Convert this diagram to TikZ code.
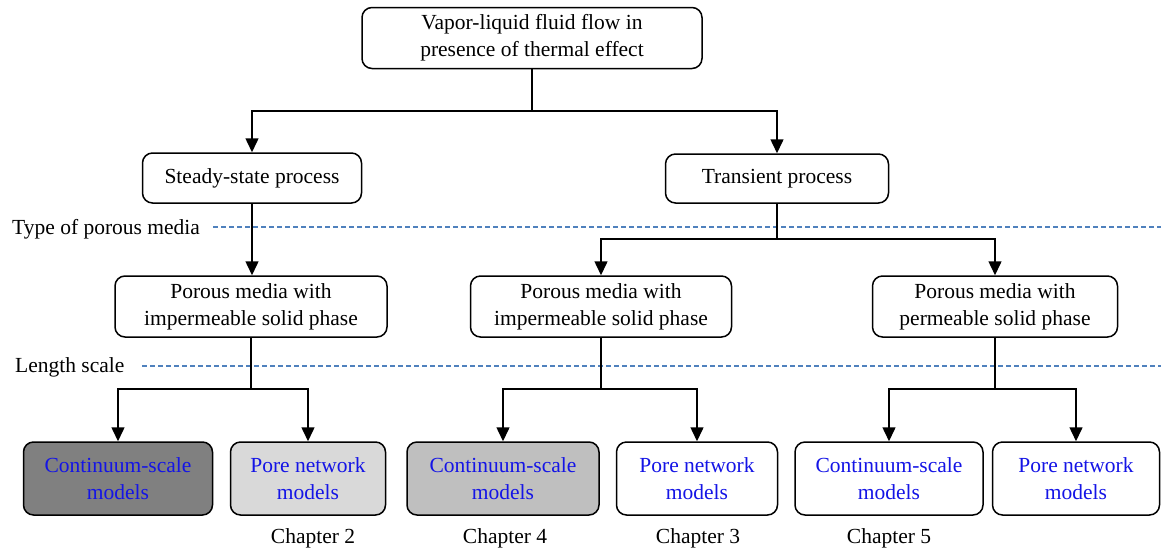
\documentclass[tikz,border=0pt]{standalone}
\usepackage{fontspec}
\setmainfont{Liberation Serif}
\usetikzlibrary{arrows.meta}
\definecolor{dashblue}{RGB}{79,129,189}
\definecolor{txtblue}{RGB}{20,20,230}
\definecolor{fillA}{RGB}{128,128,128}
\definecolor{fillB}{RGB}{217,217,217}
\definecolor{fillC}{RGB}{191,191,191}
\begin{document}
\begin{tikzpicture}[x=1pt,y=-1pt,
  font=\fontsize{21.5}{27}\selectfont,
  boxnode/.style={draw=black, line width=1.5pt, rounded corners=10pt, inner sep=0pt, align=center},
  modelbox/.style={boxnode, minimum height=73pt, text=txtblue},
  arr/.style={line width=1.5pt, -{Triangle[length=14pt,width=13pt]}},
  plain/.style={line width=1.5pt},
  sep/.style={dashblue, line width=1.2pt, dash pattern=on 5pt off 3pt},
  lbl/.style={inner sep=0pt}]
\useasboundingbox (0,0) rectangle (1161,552);

\node[boxnode, minimum width=340pt, minimum height=61pt] (top) at (532,38) {Vapor-liquid fluid flow in\\presence of thermal effect};
\node[boxnode, minimum width=219pt, minimum height=50pt] (ss) at (252,178) {Steady-state process};
\node[boxnode, minimum width=223pt, minimum height=49pt] (tr) at (777,178.5) {Transient process};

\node[boxnode, minimum width=272pt, minimum height=61pt] (m1) at (251,306.5) {Porous media with\\impermeable solid phase};
\node[boxnode, minimum width=261pt, minimum height=61pt] (m2) at (601,306.5) {Porous media with\\impermeable solid phase};
\node[boxnode, minimum width=245pt, minimum height=61pt] (m3) at (995,306.5) {Porous media with\\permeable solid phase};

\node[modelbox, fill=fillA, minimum width=189pt] (b1) at (118,478.5) {Continuum-scale\\models};
\node[modelbox, fill=fillB, minimum width=155pt] (b2) at (308,478.5) {Pore network\\models};
\node[modelbox, fill=fillC, minimum width=192pt] (b3) at (503,478.5) {Continuum-scale\\models};
\node[modelbox, fill=white, minimum width=161pt] (b4) at (697,478.5) {Pore network\\models};
\node[modelbox, fill=white, minimum width=188pt] (b5) at (889,478.5) {Continuum-scale\\models};
\node[modelbox, fill=white, minimum width=167pt] (b6) at (1076,478.5) {Pore network\\models};

\node[lbl] (c2) at (313,538) {Chapter 2};
\node[lbl] (c4) at (505,538) {Chapter 4};
\node[lbl] (c3) at (698,538) {Chapter 3};
\node[lbl] (c5) at (889,538) {Chapter 5};

% separators
\node[lbl, anchor=west] (l1) at (12,229) {Type of porous media};
\node[lbl, anchor=west] (l2) at (15,367) {Length scale};
\coordinate (d1e) at (1161,227);
\coordinate (d2e) at (1161,366);
\draw[sep] (213,227) -- (d1e);
\draw[sep] (142,366) -- (d2e);

% connectors
\coordinate (j1) at (top.south |- 0,111);
\draw[plain] (top.south) -- (j1);
\draw[arr] (j1) -| (ss.north);
\draw[arr] (j1) -| (tr.north);

\draw[arr] (ss.south) -- (ss.south |- m1.north);

\coordinate (j2) at (tr.south |- 0,239);
\draw[plain] (tr.south) -- (j2);
\draw[arr] (j2) -| (m2.north);
\draw[arr] (j2) -| (m3.north);

\coordinate (j3) at (m1.south |- 0,389);
\draw[plain] (m1.south) -- (j3);
\draw[arr] (j3) -| (b1.north);
\draw[arr] (j3) -| (b2.north);

\coordinate (j4) at (m2.south |- 0,389);
\draw[plain] (m2.south) -- (j4);
\draw[arr] (j4) -| (b3.north);
\draw[arr] (j4) -| (b4.north);

\coordinate (j5) at (m3.south |- 0,389);
\draw[plain] (m3.south) -- (j5);
\draw[arr] (j5) -| (b5.north);
\draw[arr] (j5) -| (b6.north);
\end{tikzpicture}
\end{document}
